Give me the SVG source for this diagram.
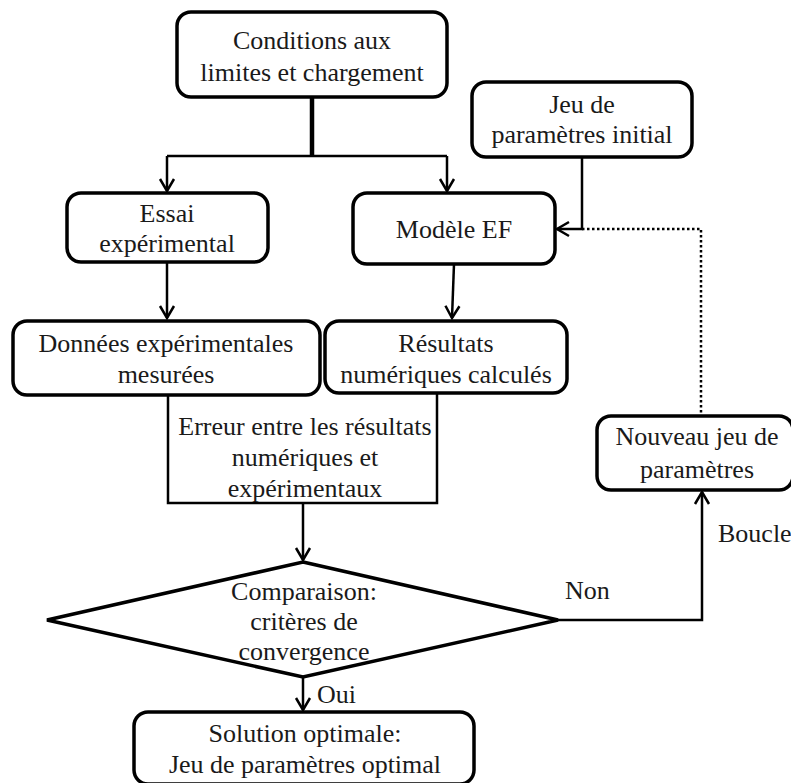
<svg xmlns="http://www.w3.org/2000/svg" width="791" height="783" viewBox="0 0 791 783">
<style>
.box{fill:#fff;stroke:#000;stroke-width:3.5}
.c{fill:none;stroke:#000;stroke-width:2.5}
</style>
<defs>
<marker id="arr" markerUnits="userSpaceOnUse" markerWidth="20" markerHeight="20" viewBox="-14 -10 16 20" refX="0" refY="0" orient="auto">
<polyline points="-12,-7 0,0 -12,7" fill="none" stroke="#000" stroke-width="2.5"/>
</marker>
</defs>
<rect width="791" height="783" fill="#fff"/>
<g id="connectors">
<line x1="312" y1="97" x2="312" y2="156" stroke="#000" stroke-width="4.5"/>
<polyline class="c" points="167,156 447,156"/>
<polyline class="c" points="167,156 167,191" marker-end="url(#arr)"/>
<polyline class="c" points="447,156 447,191" marker-end="url(#arr)"/>
<polyline class="c" points="582,157 582,229 557,229" marker-end="url(#arr)"/>
<polyline class="c" points="582,229 701,229 701,416" stroke-dasharray="2.5 2.5"/>
<polyline class="c" points="167,262 167,318" marker-end="url(#arr)"/>
<polyline class="c" points="454,264 452,318" marker-end="url(#arr)"/>
<polyline class="c" points="168,395 168,503 437,503 437,393"/>
<polyline class="c" points="303,503 303,560" marker-end="url(#arr)"/>
<polyline class="c" points="558,620 702,620 702,492" marker-end="url(#arr)"/>
<polyline class="c" points="303,677 303,710" marker-end="url(#arr)"/>
</g>
<g font-family="Liberation Serif, Times New Roman, Times, serif" font-size="26" fill="#1a1a1a" text-anchor="middle">
<g id="n-conditions">
<rect class="box" x="177" y="12" width="270" height="85" rx="14"/>
<text x="312" y="49">Conditions aux</text>
<text x="312" y="81">limites et chargement</text>
</g>
<g id="n-jeu-initial">
<rect class="box" x="472" y="82" width="220" height="75" rx="14"/>
<text x="582" y="113">Jeu de</text>
<text x="582" y="143">paramètres initial</text>
</g>
<g id="n-essai">
<rect class="box" x="67" y="193" width="201" height="69" rx="14"/>
<text x="167" y="222">Essai</text>
<text x="167" y="252">expérimental</text>
</g>
<g id="n-modele">
<rect class="box" x="353" y="193" width="202" height="71" rx="14"/>
<text x="454" y="238">Modèle EF</text>
</g>
<g id="n-donnees">
<rect class="box" x="13" y="321" width="307" height="74" rx="14"/>
<text x="166" y="352">Données expérimentales</text>
<text x="166" y="383">mesurées</text>
</g>
<g id="n-resultats">
<rect class="box" x="325" y="321" width="242" height="72" rx="14"/>
<text x="446" y="352">Résultats</text>
<text x="446" y="383">numériques calculés</text>
</g>
<g id="n-erreur">
<text x="305" y="435">Erreur entre les résultats</text>
<text x="305" y="466">numériques et</text>
<text x="305" y="497">expérimentaux</text>
</g>
<g id="n-nouveau">
<rect class="box" x="597" y="416" width="196" height="74" rx="14"/>
<text x="697" y="445">Nouveau jeu de</text>
<text x="697" y="478">paramètres</text>
</g>
<g id="n-comparaison">
<polygon class="box" points="303,562 558,620 303,677 47,620" stroke-linejoin="miter"/>
<text x="304" y="600">Comparaison:</text>
<text x="304" y="630">critères de</text>
<text x="304" y="660">convergence</text>
</g>
<g id="n-solution">
<rect class="box" x="134" y="712" width="340" height="72" rx="14"/>
<text x="305" y="742">Solution optimale:</text>
<text x="305" y="773">Jeu de paramètres optimal</text>
</g>
<g id="labels" text-anchor="start">
<text x="565" y="599">Non</text>
<text x="718" y="542">Boucle</text>
<text x="317" y="703">Oui</text>
</g>
</g>
</svg>
